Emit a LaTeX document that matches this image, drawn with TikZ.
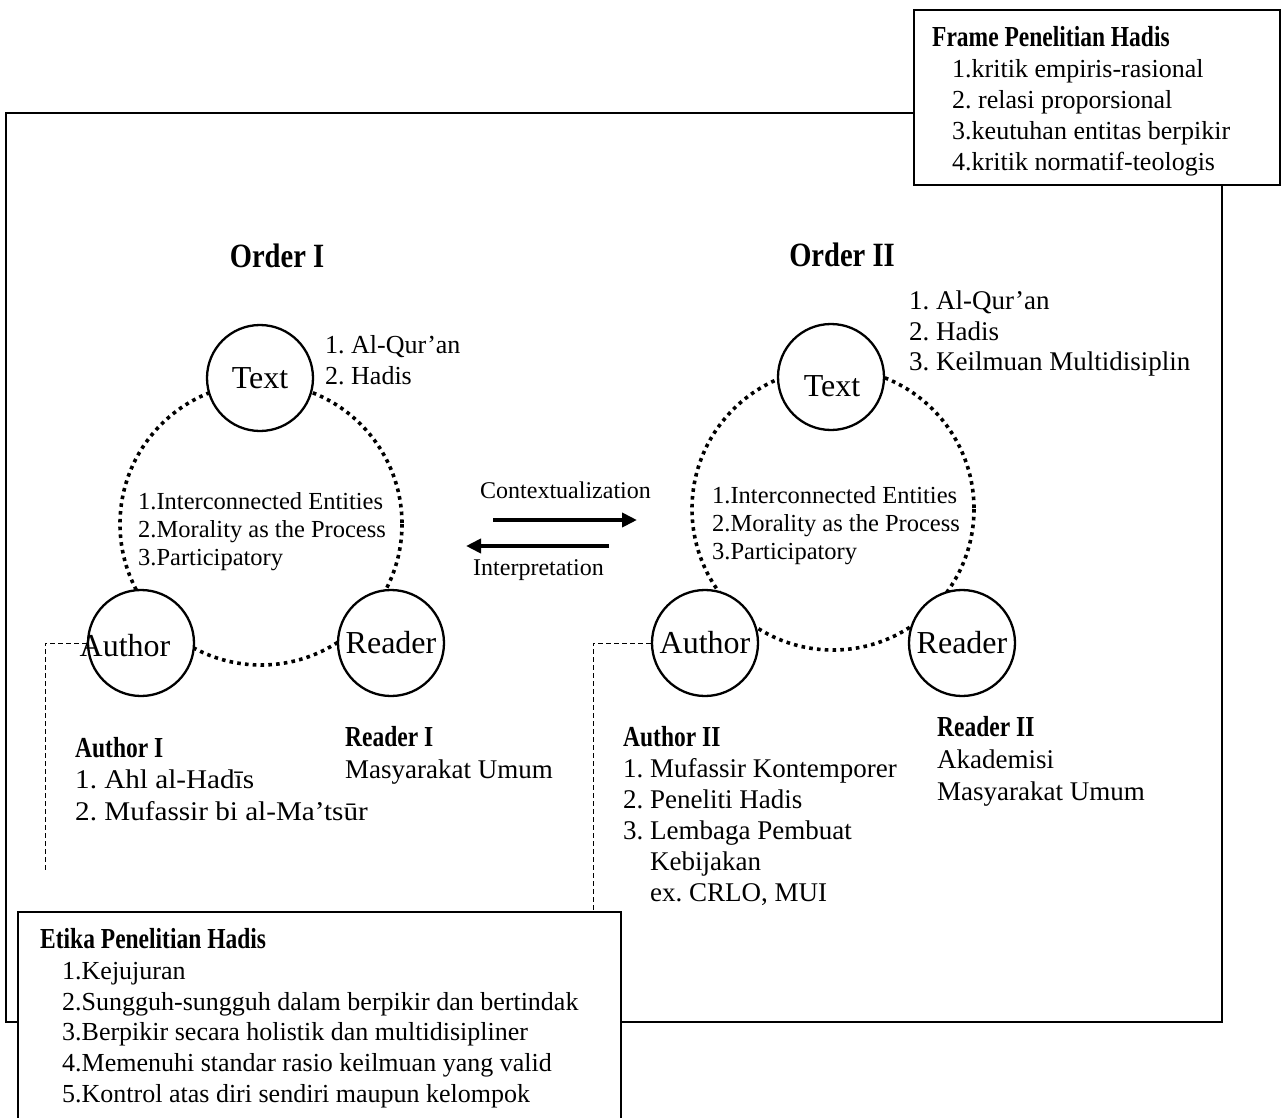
\documentclass[tikz,border=0pt]{standalone}
\usepackage{fontspec}
\setmainfont{Liberation Serif}
\usetikzlibrary{arrows.meta}
\frenchspacing
\newcommand\hdtxt[1]{\scalebox{0.81}[1]{\fontsize{29}{33}\selectfont\bfseries #1}}
\newcommand\ordtxt[1]{\scalebox{0.84}[1]{\fontsize{34}{40}\selectfont\bfseries #1}}
\newcommand\widetxt[1]{\scalebox{1.08}[1]{#1}}
\begin{document}
\begin{tikzpicture}[x=1pt,y=-1pt,
  lst/.style={font=\fontsize{26}{31}\selectfont, inner sep=0pt, anchor=base west},
  lstb/.style={font=\fontsize{27}{31}\selectfont, inner sep=0pt, anchor=base west},
  ctr/.style={font=\fontsize{24.5}{28}\selectfont, inner sep=0pt, anchor=base west},
  lbl/.style={font=\fontsize{24}{28}\selectfont, inner sep=0pt, anchor=base west},
  hd/.style={inner sep=0pt, anchor=base west},
  circ/.style={circle, draw, line width=2.3pt, fill=white, minimum size=106pt, inner sep=0pt, font=\fontsize{32}{36}\selectfont},
  dots/.style={line width=3.6pt, dash pattern=on 3.6pt off 4.2pt},
  dsh/.style={line width=1pt, dash pattern=on 5pt off 3pt},
  arr/.style={line width=4pt, -{Triangle[length=15pt,width=14pt]}},
  box/.style={draw, fill=white, line width=2.3pt}]
\useasboundingbox (0,0) rectangle (1282,1118);
\fill[white] (0,0) rectangle (1282,1118);

% outer frame
\draw[line width=2.5pt] (6,113) rectangle (1222,1022);

% titles
\node[inner sep=0pt, anchor=base] (ord1) at (277,267) {\ordtxt{Order I}};
\node[inner sep=0pt, anchor=base] (ord2) at (842,266) {\ordtxt{Order II}};

% dotted circles
\draw[dots] (261,524) circle[radius=141];
\draw[dots] (833,509) circle[radius=141];

% circle nodes
\node[circ] (t1) at (260,378) {Text};
\node[circ] (a1) at (141,643) {};
\node[circ] (r1) at (391,643) {Reader};
\node[inner sep=0pt, font=\fontsize{32}{36}\selectfont] (a1lab) at (125,646) {Author};
\node[circ] (t2) at (831,377) {};
\node[inner sep=0pt, font=\fontsize{32}{36}\selectfont] (t2lab) at (832,386) {Text};
\node[circ] (a2) at (705,643) {Author};
\node[circ] (r2) at (962,643) {Reader};

% dashed connectors
\coordinate (lc1) at (45,643);
\coordinate (lc2) at (45,872);
\draw[dsh] (a1.west) -- (lc1) -- (lc2);
\coordinate (rc1) at (593,643);
\coordinate (rc2) at (593,912);
\draw[dsh] (a2.west) -- (rc1) -- (rc2);

% text lists near Text circles
\node[lst] (tl1) at (325,353) {1. Al-Qur’an};
\node[lst] (tl2) at (325,384) {2. Hadis};
\node[lstb] (tr1) at (909,309) {1. Al-Qur’an};
\node[lstb] (tr2) at (909,340) {2. Hadis};
\node[lstb] (tr3) at (909,370) {3. Keilmuan Multidisiplin};

% center lists
\node[ctr] (cl1) at (138,509) {1.Interconnected Entities};
\node[ctr] (cl2) at (138,537) {2.Morality as the Process};
\node[ctr] (cl3) at (138,565) {3.Participatory};
\node[ctr] (cr1) at (712,503) {1.Interconnected Entities};
\node[ctr] (cr2) at (712,531) {2.Morality as the Process};
\node[ctr] (cr3) at (712,559) {3.Participatory};

% arrows
\node[lbl] (ctx) at (480,498) {Contextualization};
\node[lbl] (itp) at (473,575) {Interpretation};
\coordinate (ca) at (493,520);
\coordinate (cb) at (637,520);
\draw[arr] (ca) -- (cb);
\coordinate (ia) at (609,546);
\coordinate (ib) at (466,546);
\draw[arr] (ia) -- (ib);

% author / reader I
\node[hd] (au1) at (75,757) {\hdtxt{Author I}};
\node[lstb] (au1a) at (75,788) {\widetxt{1. Ahl al-Hadīs}};
\node[lstb] (au1b) at (75,820) {\widetxt{2. Mufassir bi al-Ma’tsūr}};
\node[hd] (rd1) at (345,746) {\hdtxt{Reader I}};
\node[lstb] (rd1a) at (345,778) {Masyarakat Umum};

% author / reader II
\node[hd] (au2) at (623,746) {\hdtxt{Author II}};
\node[lstb] (au2a) at (623,777) {1. Mufassir Kontemporer};
\node[lstb] (au2b) at (623,808) {2. Peneliti Hadis};
\node[lstb] (au2c) at (623,839) {3. Lembaga Pembuat};
\node[lstb] (au2d) at (623,870) {\phantom{3. }Kebijakan};
\node[lstb] (au2e) at (623,901) {\phantom{3. }ex. CRLO, MUI};
\node[hd] (rd2) at (937,736) {\hdtxt{Reader II}};
\node[lstb] (rd2a) at (937,768) {Akademisi};
\node[lstb] (rd2b) at (937,800) {Masyarakat Umum};

% frame box
\draw[box] (914,10) rectangle (1280,185);
\node[hd] (frt) at (932,47) {\hdtxt{Frame Penelitian Hadis}};
\node[lst] (fr1) at (952,78) {1.kritik empiris-rasional};
\node[lst] (fr2) at (952,109) {2. relasi proporsional};
\node[lst] (fr3) at (952,140) {3.keutuhan entitas berpikir};
\node[lst] (fr4) at (952,171) {4.kritik normatif-teologis};

% etika box
\draw[box] (18,912) rectangle (621,1130);
\node[hd] (ett) at (40,948) {\hdtxt{Etika Penelitian Hadis}};
\node[lst] (et1) at (62,979) {1.Kejujuran};
\node[lst] (et2) at (62,1010) {2.Sungguh-sungguh dalam berpikir dan bertindak};
\node[lst] (et3) at (62,1040) {3.Berpikir secara holistik dan multidisipliner};
\node[lst] (et4) at (62,1071) {4.Memenuhi standar rasio keilmuan yang valid};
\node[lst] (et5) at (62,1102) {5.Kontrol atas diri sendiri maupun kelompok};
\end{tikzpicture}
\end{document}
